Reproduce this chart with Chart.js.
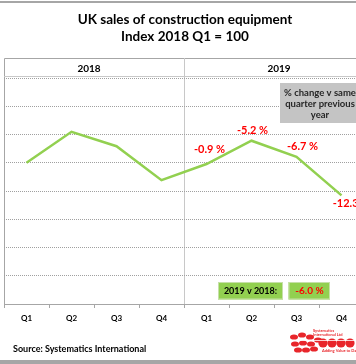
<!DOCTYPE html>
<html>
<head>
<meta charset="utf-8">
<script src="https://cdn.jsdelivr.net/npm/chart.js@4/dist/chart.umd.min.js"></script>
<style>
  html, body { margin: 0; padding: 0; background: #fff; width: 356px; height: 364px; overflow: hidden; }
  #wrap { position: relative; width: 372px; height: 364px; }
</style>
</head>
<body>
<div id="wrap"><canvas id="c" width="372" height="364"></canvas></div>
<script>
// ---- data ----
const categories = ['Q1', 'Q2', 'Q3', 'Q4', 'Q1', 'Q2', 'Q3', 'Q4'];
const years = ['2018', '2019'];
const indexValues = [100, 121.9, 111.7, 87.7, 99.1, 115.6, 104.2, 76.9];
const changeLabels = [null, null, null, null, '-0.9 %', '-5.2 %', '-6.7 %', '-12.3 %'];
const yMin = 0, yMax = 160, yStep = 20;
const titleLines = ['UK sales of construction equipment', 'Index 2018 Q1 = 100'];
const noteLines = ['% change v same', 'quarter previous', 'year'];
const summaryLabel = '2019 v 2018:';
const summaryValue = '-6.0 %';
const sourceText = 'Source: Systematics International';
const logoLines = ['Systematics', 'International Ltd', 'Adding Value to Data'];

// ---- styles ----
const FONT = 'Lato, "Open Sans", sans-serif';
const GREEN = '#92d050';
const RED = '#ff0000';
const GRID = '#a0a0a0';
const labelOffsets = [null, null, null, null, [3, -15], [1, -10], [6, -10], [10, 8]];

const deco = {
  id: 'deco',
  beforeDraw(chart) {
    const ctx = chart.ctx;
    const x = chart.scales.x, a = chart.chartArea;
    ctx.save();
    ctx.fillStyle = '#fff';
    ctx.fillRect(0, 0, chart.width, chart.height);
    // top frame line
    ctx.fillStyle = '#a6a6a6';
    ctx.fillRect(0, 1, chart.width, 2);
    // bottom bar
    ctx.fillRect(0, 360, chart.width, 4);
    // title
    ctx.fillStyle = '#000';
    ctx.textAlign = 'center';
    ctx.textBaseline = 'middle';
    ctx.font = 'bold 13.5px ' + FONT;
    ctx.fillText(titleLines[0], 185, 20);
    ctx.fillText(titleLines[1], 185, 37);
    // header box
    const hTop = 58;
    ctx.strokeStyle = '#a6a6a6';
    ctx.lineWidth = 1;
    ctx.beginPath();
    ctx.moveTo(a.left + 0.5, a.bottom);
    ctx.lineTo(a.left + 0.5, hTop + 0.5);
    ctx.lineTo(chart.width, hTop + 0.5);
    ctx.stroke();
    ctx.strokeStyle = '#c8c8c8';
    ctx.beginPath();
    ctx.moveTo(a.left, a.top - 1.5);
    ctx.lineTo(chart.width, a.top - 1.5);
    ctx.stroke();
    // separator between years
    const sep = (x.getPixelForValue(3) + x.getPixelForValue(4)) / 2;
    ctx.strokeStyle = '#c8c8c8';
    ctx.beginPath();
    ctx.moveTo(Math.round(sep) + 0.5, hTop);
    ctx.lineTo(Math.round(sep) + 0.5, a.bottom + 3);
    ctx.stroke();
    // year labels
    ctx.fillStyle = '#000';
    ctx.font = 'bold 10px ' + FONT;
    const c1 = (x.getPixelForValue(1) + x.getPixelForValue(2)) / 2 - 5;
    const c2 = (x.getPixelForValue(5) + x.getPixelForValue(6)) / 2 + 5;
    ctx.fillText(years[0], c1, 68.5);
    ctx.fillText(years[1], c2, 69);
    ctx.restore();
  },
  afterDraw(chart) {
    const ctx = chart.ctx;
    const meta = chart.getDatasetMeta(0);
    ctx.save();
    ctx.textAlign = 'center';
    ctx.textBaseline = 'middle';
    // change labels
    ctx.font = 'bold 11px ' + FONT;
    ctx.fillStyle = RED;
    changeLabels.forEach((t, i) => {
      if (!t) return;
      const p = meta.data[i];
      const o = labelOffsets[i];
      ctx.fillText(t, p.x + o[0], p.y + o[1]);
    });
    // grey note box
    ctx.fillStyle = '#c4c4c4';
    ctx.fillRect(280, 83, 90, 40);
    ctx.fillStyle = '#262626';
    ctx.font = 'bold 9.5px ' + FONT;
    noteLines.forEach((t, i) => ctx.fillText(t, 320, 93 + i * 10.8));
    // green summary boxes
    ctx.fillStyle = GREEN;
    ctx.fillRect(218, 282, 65, 17.5);
    ctx.fillRect(288.5, 282, 41.5, 17.5);
    ctx.strokeStyle = '#c6e0a8';
    ctx.lineWidth = 1;
    ctx.strokeRect(218.5, 282.5, 64, 16.5);
    ctx.strokeRect(289, 282.5, 40.5, 16.5);
    ctx.fillStyle = '#000';
    ctx.font = 'bold 9px ' + FONT;
    ctx.fillText(summaryLabel, 250.5, 291);
    ctx.fillStyle = RED;
    ctx.font = 'bold 10px ' + FONT;
    ctx.fillText(summaryValue, 309.5, 291);
    // source
    ctx.textAlign = 'left';
    ctx.fillStyle = '#000';
    ctx.font = 'bold 9px ' + FONT;
    ctx.fillText(sourceText, 13, 349.5);
    // logo (approximation)
    ctx.fillStyle = '#e8262b';
    const small = [[294,337],[302,335],[310,337],[295,344],[303,343],[311,344],[298,350],[306,350],[314,349],[318,340]];
    small.forEach(([cx, cy]) => { ctx.beginPath(); ctx.ellipse(cx, cy, 4, 2.6, 0, 0, Math.PI * 2); ctx.fill(); });
    [[323,343],[332,343],[341,343],[350,343]].forEach(([cx, cy]) => { ctx.beginPath(); ctx.arc(cx, cy, 4.6, 0, Math.PI * 2); ctx.fill(); });
    ctx.strokeStyle = '#fff';
    ctx.lineWidth = 0.8;
    ctx.beginPath(); ctx.moveTo(288, 340.5); ctx.lineTo(356, 340.5); ctx.stroke();
    ctx.fillStyle = '#e8262b';
    ctx.font = 'bold 4px ' + FONT;
    ctx.fillText(logoLines[0], 313, 331);
    ctx.fillText(logoLines[1], 313, 335);
    ctx.fillText(logoLines[2], 322, 351);
    ctx.restore();
  }
};

new Chart(document.getElementById('c'), {
  type: 'line',
  data: {
    labels: categories,
    datasets: [{
      data: indexValues,
      borderColor: GREEN,
      borderWidth: 2.5,
      pointRadius: 0,
      tension: 0,
      fill: false
    }]
  },
  options: {
    responsive: false,
    animation: false,
    events: [],
    layout: { padding: { left: 4, right: 8, top: 78, bottom: 0 } },
    plugins: { legend: { display: false }, title: { display: false }, tooltip: { enabled: false } },
    scales: {
      x: {
        offset: true,
        grid: { offset: true, drawOnChartArea: false, drawTicks: true, tickLength: 4, color: '#a6a6a6' },
        border: { display: true, color: '#a6a6a6' },
        ticks: { color: '#000', font: { family: FONT, size: 8, weight: 'bold' }, padding: 6, maxRotation: 0, autoSkip: false },
        afterFit(s) { s.height = 60; }
      },
      y: {
        min: yMin, max: yMax,
        ticks: { stepSize: yStep, display: false },
        grid: { color: GRID, drawTicks: false, lineWidth: 1 },
        border: { display: false, dash: [1, 1] },
        afterFit(s) { s.width = 0; }
      }
    }
  },
  plugins: [deco]
});
</script>
</body>
</html>
